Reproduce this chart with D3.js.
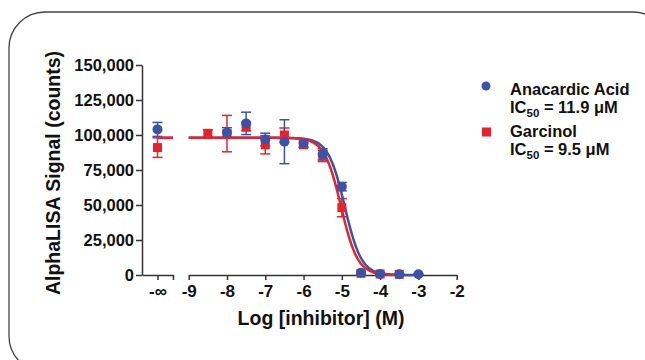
<!DOCTYPE html>
<html>
<head>
<meta charset="utf-8">
<title>AlphaLISA inhibition</title>
<script src="https://d3js.org/d3.v7.min.js"></script>
<style>
  body { margin: 0; background: #fff; }
  svg text { font-family: "Liberation Sans", Arial, sans-serif; font-weight: bold; fill: #111; }
  .axis path, .axis line { stroke: #333; stroke-width: 1.5; }
</style>
</head>
<body>
<script>
// log concentrations (M); the "-inf" control is drawn separately
var logConc = [-8.5, -8, -7.5, -7, -6.5, -6, -5.5, -5, -4.5, -4, -3.5, -3];

// Anacardic acid (blue)
var anaZero = 104000, anaZeroErr = 5000;
var anaMean = [null, 101700, 108300, 96800, 95200, 94000, 86200, 63100, 1600, 700, 500, 500];
var anaErr  = [null, 3500, 8000, 4500, 15700, 2500, 4000, 3000, 800, 500, 400, 400];

// Garcinol (red)
var garZero = 91000, garZeroErr = 7000;
var garMean = [101200, 101000, 105900, 93000, 100000, 93000, 85000, 48100, 1200, 700, 500, null];
var garErr  = [2500, 13000, 3000, 6500, 5000, 2000, 4000, 6500, 800, 500, 400, null];

// fit parameters (top, bottom, log IC50, hill slope, x range)
var anaFit = { top: 98000, bottom: 0, logIC50: Math.log10(11.9e-6), hill: 2.0, xmax: -3 };
var garFit = { top: 98000, bottom: 0, logIC50: Math.log10(9.5e-6), hill: 2.0, xmax: -3.5 };

var yTicks = [0, 25000, 50000, 75000, 100000, 125000, 150000];
var xTicks = [-9, -8, -7, -6, -5, -4, -3, -2];

var blue = "#3d52a6", red = "#e8222a";

var W = 645, H = 360;
var svg = d3.select("body").append("svg").attr("width", W).attr("height", H);

// rounded frame
svg.append("rect")
  .attr("x", 9).attr("y", 12).attr("width", 660).attr("height", 360)
  .attr("rx", 36).attr("ry", 36)
  .attr("fill", "none").attr("stroke", "#444").attr("stroke-width", 1.3);

var y = d3.scaleLinear().domain([0, 150000]).range([275, 65]);
var x = d3.scaleLinear().domain([-9, -2]).range([188.7, 456.7]);
var xInf = d3.scaleLinear().domain([0, 2]).range([142, 173]); // -inf segment

// y axis
svg.append("g").attr("class", "axis")
  .attr("transform", "translate(142,0)")
  .call(d3.axisLeft(y).tickValues(yTicks).tickSize(6).tickSizeOuter(0).tickPadding(2)
    .tickFormat(d3.format(",")))
  .call(function(g) { g.selectAll("text").attr("font-size", 16.5).attr("fill", "#111"); });

// x axis, -inf segment
svg.append("g").attr("class", "axis")
  .attr("transform", "translate(0,275)")
  .call(d3.axisBottom(xInf).tickValues([1, 2]).tickSize(5).tickSizeOuter(0).tickPadding(5)
    .tickFormat(function(d) { return d === 1 ? "-\u221e" : ""; }))
  .call(function(g) { g.selectAll("text").attr("font-size", 17).attr("fill", "#111"); });

// x axis, main segment
svg.append("g").attr("class", "axis")
  .attr("transform", "translate(0,275)")
  .call(d3.axisBottom(x).tickValues(xTicks).tickSize(5).tickSizeOuter(0).tickPadding(5)
    .tickFormat(function(d) { return d3.format("d")(d).replace("\u2212", "-"); }))
  .call(function(g) { g.selectAll("text").attr("font-size", 17).attr("fill", "#111"); });

// axis titles
svg.append("text")
  .attr("transform", "translate(60,173) rotate(-90)")
  .attr("text-anchor", "middle").attr("font-size", 19.5)
  .text("AlphaLISA Signal (counts)");
svg.append("text")
  .attr("x", 321).attr("y", 325)
  .attr("text-anchor", "middle").attr("font-size", 19.5)
  .text("Log [inhibitor] (M)");

function fitVal(f, lx) {
  return f.bottom + (f.top - f.bottom) / (1 + Math.pow(10, (lx - f.logIC50) * f.hill));
}

function points(mean, err, zero, zeroErr) {
  var pts = [{ px: xInf(1), v: zero, e: zeroErr }];
  logConc.forEach(function(c, i) {
    if (mean[i] != null) pts.push({ px: x(c), v: mean[i], e: err[i] });
  });
  return pts;
}

function drawErrors(pts, color) {
  var g = svg.append("g").attr("stroke", color).attr("stroke-width", 1.5).attr("fill", "none");
  pts.forEach(function(p) {
    g.append("line").attr("x1", p.px).attr("x2", p.px).attr("y1", y(p.v + p.e)).attr("y2", y(p.v - p.e));
    g.append("line").attr("x1", p.px - 5).attr("x2", p.px + 5).attr("y1", y(p.v + p.e)).attr("y2", y(p.v + p.e));
    g.append("line").attr("x1", p.px - 5).attr("x2", p.px + 5).attr("y1", y(p.v - p.e)).attr("y2", y(p.v - p.e));
  });
}

function drawFit(f, color) {
  var xs = d3.range(-9, f.xmax + 0.001, 0.02);
  var line = d3.line().x(function(d) { return x(d); }).y(function(d) { return y(fitVal(f, d)); });
  svg.append("path").datum(xs).attr("d", line)
    .attr("fill", "none").attr("stroke", color).attr("stroke-width", 2.5);
  // plateau over the -inf segment
  svg.append("line")
    .attr("x1", xInf(1)).attr("x2", xInf(2))
    .attr("y1", y(f.top)).attr("y2", y(f.top))
    .attr("stroke", color).attr("stroke-width", 2.5);
}

var anaPts = points(anaMean, anaErr, anaZero, anaZeroErr);
var garPts = points(garMean, garErr, garZero, garZeroErr);

drawErrors(garPts, red);
drawErrors(anaPts, blue);
drawFit(anaFit, blue);
drawFit(garFit, red);

svg.append("g").selectAll("rect").data(garPts).enter().append("rect")
  .attr("x", function(d) { return d.px - 4.5; })
  .attr("y", function(d) { return y(d.v) - 4.5; })
  .attr("width", 9).attr("height", 9).attr("fill", red);

svg.append("g").selectAll("circle").data(anaPts).enter().append("circle")
  .attr("cx", function(d) { return d.px; })
  .attr("cy", function(d) { return y(d.v); })
  .attr("r", 5).attr("fill", blue);

// legend
var leg = svg.append("g");
leg.append("circle").attr("cx", 486).attr("cy", 86).attr("r", 4.5).attr("fill", blue);
leg.append("text").attr("x", 510).attr("y", 95).attr("font-size", 16.5).text("Anacardic Acid");
var t1 = leg.append("text").attr("x", 510).attr("y", 113).attr("font-size", 16.5);
t1.append("tspan").text("IC");
t1.append("tspan").attr("font-size", 11.5).attr("dy", 4).text("50");
t1.append("tspan").attr("dy", -4).text(" = 11.9 \u03bcM");

leg.append("rect").attr("x", 482).attr("y", 127.5).attr("width", 9).attr("height", 9).attr("fill", red);
leg.append("text").attr("x", 510).attr("y", 137).attr("font-size", 16.5).text("Garcinol");
var t2 = leg.append("text").attr("x", 510).attr("y", 155).attr("font-size", 16.5);
t2.append("tspan").text("IC");
t2.append("tspan").attr("font-size", 11.5).attr("dy", 4).text("50");
t2.append("tspan").attr("dy", -4).text(" = 9.5 \u03bcM");
</script>
</body>
</html>
